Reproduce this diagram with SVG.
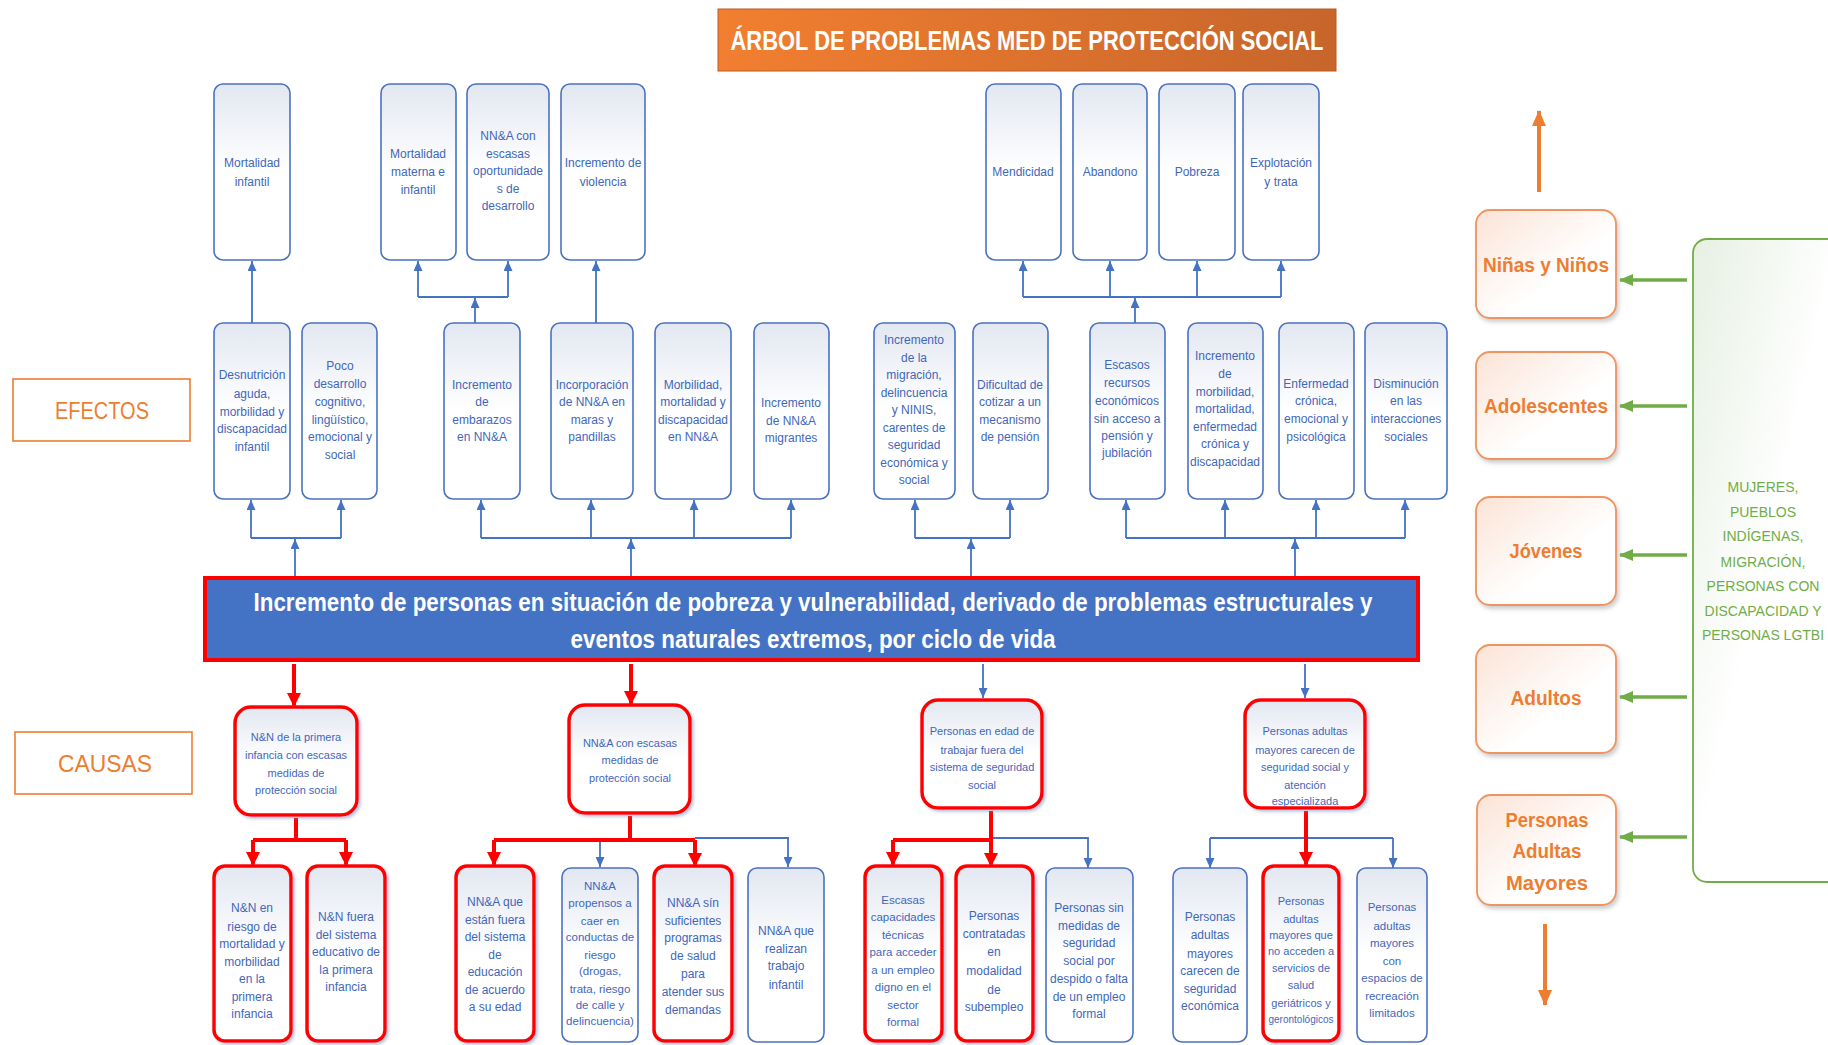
<svg xmlns="http://www.w3.org/2000/svg" width="1828" height="1045" viewBox="0 0 1828 1045">
<defs>
<linearGradient id="gb" x1="0" y1="0" x2="0" y2="1"><stop offset="0" stop-color="#E2E7F1"/><stop offset="0.5" stop-color="#FFFFFF"/></linearGradient>
<linearGradient id="go" x1="0" y1="0" x2="1" y2="1"><stop offset="0" stop-color="#FBE3D6"/><stop offset="0.6" stop-color="#FFFFFF"/></linearGradient>
<linearGradient id="gg" x1="0" y1="0" x2="1" y2="1"><stop offset="0" stop-color="#E6F0E2"/><stop offset="0.5" stop-color="#FFFFFF"/></linearGradient>
<linearGradient id="gt" x1="0" y1="0" x2="1" y2="0"><stop offset="0" stop-color="#F27F30"/><stop offset="1" stop-color="#C7652B"/></linearGradient>
<filter id="sh" x="-10%" y="-10%" width="130%" height="130%"><feDropShadow dx="2" dy="2" stdDeviation="1.5" flood-color="#6F86B8" flood-opacity="0.5"/></filter>
<filter id="sho" x="-10%" y="-10%" width="130%" height="130%"><feDropShadow dx="2" dy="3" stdDeviation="2" flood-color="#999" flood-opacity="0.5"/></filter>
<marker id="ab" viewBox="0 0 10 9" markerWidth="10" markerHeight="9" refX="10" refY="4.5" orient="auto" markerUnits="userSpaceOnUse"><path d="M0,0 L10,4.5 L0,9 z" fill="#4472C4"/></marker>
<marker id="ar" viewBox="0 0 14 14" markerWidth="14" markerHeight="14" refX="13" refY="7" orient="auto" markerUnits="userSpaceOnUse"><path d="M0,0 L14,7 L0,14 z" fill="#FF0000"/></marker>
<marker id="ag" viewBox="0 0 14 12" markerWidth="14" markerHeight="12" refX="13" refY="6" orient="auto" markerUnits="userSpaceOnUse"><path d="M0,0 L14,6 L0,12 z" fill="#70AD47"/></marker>
<marker id="ao" viewBox="0 0 16 14" markerWidth="16" markerHeight="14" refX="15" refY="7" orient="auto" markerUnits="userSpaceOnUse"><path d="M0,0 L16,7 L0,14 z" fill="#ED7D31"/></marker>
</defs>
<style>
.b{fill:url(#gb);stroke:#4A72C0;stroke-width:1.6}
.r{fill:url(#gb);stroke:#FF0000;stroke-width:3.5;filter:url(#sh)}
.t{font-family:"Liberation Sans",Arial,sans-serif;font-size:12px;fill:#3F67BA;text-anchor:middle}
.s11{font-size:11px}
.s115{font-size:11.5px}
.cb{fill:none;stroke:#4472C4;stroke-width:1.8}
.cr{fill:none;stroke:#FF0000;stroke-width:4}
.cg{fill:none;stroke:#70AD47;stroke-width:3.5}
.co{fill:none;stroke:#ED7D31;stroke-width:4}
.o{fill:url(#go);stroke:#EE9460;stroke-width:1.8;filter:url(#sho)}
.ot{font-family:"Liberation Sans",Arial,sans-serif;font-size:20px;font-weight:bold;fill:#ED7D31;text-anchor:middle}
.lab{fill:#FFFFFF;stroke:#ED7D31;stroke-width:1.6}
.lt{font-family:"Liberation Sans",Arial,sans-serif;font-size:24px;fill:#ED7D31;text-anchor:middle}
.gt{font-family:"Liberation Sans",Arial,sans-serif;font-size:14px;fill:#70AD47;text-anchor:middle}
</style>
<rect width="1828" height="1045" fill="#FFFFFF"/>

<g id="title">
<rect x="718" y="9" width="618" height="62" fill="url(#gt)" stroke="#B85A22" stroke-width="1"/>
<text x="1027" y="50" font-family="Liberation Sans,Arial,sans-serif" font-size="28" font-weight="bold" fill="#FFFFFF" text-anchor="middle" textLength="593" lengthAdjust="spacingAndGlyphs">ÁRBOL DE PROBLEMAS MED DE PROTECCIÓN SOCIAL</text>
</g>

<g id="efectos"><rect class="lab" x="13" y="379" width="177" height="62"/><text class="lt" x="102" y="419" textLength="94" lengthAdjust="spacingAndGlyphs">EFECTOS</text></g>
<g id="causas"><rect class="lab" x="15" y="732" width="177" height="62"/><text class="lt" x="105" y="772" textLength="94" lengthAdjust="spacingAndGlyphs">CAUSAS</text></g>

<g id="connectors">
<path class="cb" d="M252,323 V261" marker-end="url(#ab)"/>
<path class="cb" d="M475,323 V298" marker-end="url(#ab)"/>
<path class="cb" d="M418,297 H508"/>
<path class="cb" d="M418,297 V261" marker-end="url(#ab)"/>
<path class="cb" d="M508,297 V261" marker-end="url(#ab)"/>
<path class="cb" d="M596,323 V261" marker-end="url(#ab)"/>
<path class="cb" d="M1135,323 V298" marker-end="url(#ab)"/>
<path class="cb" d="M1023,297 H1281"/>
<path class="cb" d="M1023,297 V261" marker-end="url(#ab)"/>
<path class="cb" d="M1110,297 V261" marker-end="url(#ab)"/>
<path class="cb" d="M1197,297 V261" marker-end="url(#ab)"/>
<path class="cb" d="M1281,297 V261" marker-end="url(#ab)"/>
<path class="cb" d="M295,576 V539" marker-end="url(#ab)"/>
<path class="cb" d="M251,538 H341"/>
<path class="cb" d="M251,538 V500" marker-end="url(#ab)"/>
<path class="cb" d="M341,538 V500" marker-end="url(#ab)"/>
<path class="cb" d="M631,576 V539" marker-end="url(#ab)"/>
<path class="cb" d="M481,538 H791"/>
<path class="cb" d="M481,538 V500" marker-end="url(#ab)"/>
<path class="cb" d="M591,538 V500" marker-end="url(#ab)"/>
<path class="cb" d="M694,538 V500" marker-end="url(#ab)"/>
<path class="cb" d="M791,538 V500" marker-end="url(#ab)"/>
<path class="cb" d="M971,576 V539" marker-end="url(#ab)"/>
<path class="cb" d="M915,538 H1010"/>
<path class="cb" d="M915,538 V500" marker-end="url(#ab)"/>
<path class="cb" d="M1010,538 V500" marker-end="url(#ab)"/>
<path class="cb" d="M1295,576 V539" marker-end="url(#ab)"/>
<path class="cb" d="M1126,538 H1405"/>
<path class="cb" d="M1126,538 V500" marker-end="url(#ab)"/>
<path class="cb" d="M1225,538 V500" marker-end="url(#ab)"/>
<path class="cb" d="M1316,538 V500" marker-end="url(#ab)"/>
<path class="cb" d="M1405,538 V500" marker-end="url(#ab)"/>
<path class="cr" d="M294,664 V706" marker-end="url(#ar)"/>
<path class="cr" d="M631,664 V704" marker-end="url(#ar)"/>
<path class="cb" d="M983,664 V698" marker-end="url(#ab)"/>
<path class="cb" d="M1305,664 V698" marker-end="url(#ab)"/>
<path class="cr" d="M296,818 V840 M253,840 H346"/>
<path class="cr" d="M253,840 V865" marker-end="url(#ar)"/>
<path class="cr" d="M346,840 V865" marker-end="url(#ar)"/>
<path class="cb" d="M695,838 H788 V867" marker-end="url(#ab)"/>
<path class="cb" d="M600,840 V867" marker-end="url(#ab)"/>
<path class="cr" d="M630,816 V840 M494,840 H695"/>
<path class="cr" d="M494,840 V865" marker-end="url(#ar)"/>
<path class="cr" d="M695,840 V866" marker-end="url(#ar)"/>
<path class="cb" d="M991,838 H1088 V868" marker-end="url(#ab)"/>
<path class="cr" d="M991,811 V840 M893,840 H991"/>
<path class="cr" d="M893,840 V865" marker-end="url(#ar)"/>
<path class="cr" d="M991,840 V866" marker-end="url(#ar)"/>
<path class="cb" d="M1210,838 H1393"/>
<path class="cb" d="M1210,838 V868" marker-end="url(#ab)"/>
<path class="cb" d="M1393,838 V868" marker-end="url(#ab)"/>
<path class="cr" d="M1306,811 V865" marker-end="url(#ar)"/>
<path class="co" d="M1539,192 V111" marker-end="url(#ao)"/>
<path class="co" d="M1545,924 V1005" marker-end="url(#ao)"/>
<path class="cg" d="M1687,280 H1620" marker-end="url(#ag)"/>
<path class="cg" d="M1687,406 H1620" marker-end="url(#ag)"/>
<path class="cg" d="M1687,555 H1620" marker-end="url(#ag)"/>
<path class="cg" d="M1687,697 H1620" marker-end="url(#ag)"/>
<path class="cg" d="M1687,837 H1620" marker-end="url(#ag)"/>
</g>

<g id="e-mortalidad-infantil"><rect class="b" x="214" y="84" width="76" height="176" rx="9"/><text class="t"><tspan x="252" y="167">Mortalidad</tspan><tspan x="252" y="186">infantil</tspan></text></g>
<g id="e-mortalidad-materna"><rect class="b" x="381" y="84" width="75" height="176" rx="9"/><text class="t"><tspan x="418" y="158">Mortalidad</tspan><tspan x="418" y="176">materna e</tspan><tspan x="418" y="194">infantil</tspan></text></g>
<g id="e-oportunidades"><rect class="b" x="467" y="84" width="82" height="176" rx="9"/><text class="t"><tspan x="508" y="140">NN&amp;A con</tspan><tspan x="508" y="158">escasas</tspan><tspan x="508" y="175">oportunidade</tspan><tspan x="508" y="193">s de</tspan><tspan x="508" y="210">desarrollo</tspan></text></g>
<g id="e-violencia"><rect class="b" x="561" y="84" width="84" height="176" rx="9"/><text class="t"><tspan x="603" y="167">Incremento de</tspan><tspan x="603" y="186">violencia</tspan></text></g>
<g id="e-mendicidad"><rect class="b" x="986" y="84" width="75" height="176" rx="9"/><text class="t"><tspan x="1023" y="176">Mendicidad</tspan></text></g>
<g id="e-abandono"><rect class="b" x="1073" y="84" width="74" height="176" rx="9"/><text class="t"><tspan x="1110" y="176">Abandono</tspan></text></g>
<g id="e-pobreza"><rect class="b" x="1159" y="84" width="76" height="176" rx="9"/><text class="t"><tspan x="1197" y="176">Pobreza</tspan></text></g>
<g id="e-explotacion"><rect class="b" x="1243" y="84" width="76" height="176" rx="9"/><text class="t"><tspan x="1281" y="167">Explotación</tspan><tspan x="1281" y="186">y trata</tspan></text></g>

<g id="e-desnutricion"><rect class="b" x="214" y="323" width="76" height="176" rx="9"/><text class="t"><tspan x="252" y="379">Desnutrición</tspan><tspan x="252" y="398">aguda,</tspan><tspan x="252" y="416">morbilidad y</tspan><tspan x="252" y="433">discapacidad</tspan><tspan x="252" y="451">infantil</tspan></text></g>
<g id="e-poco-desarrollo"><rect class="b" x="302" y="323" width="75" height="176" rx="9"/><text class="t"><tspan x="340" y="370">Poco</tspan><tspan x="340" y="388">desarrollo</tspan><tspan x="340" y="406">cognitivo,</tspan><tspan x="340" y="424">lingüístico,</tspan><tspan x="340" y="441">emocional y</tspan><tspan x="340" y="459">social</tspan></text></g>
<g id="e-embarazos"><rect class="b" x="444" y="323" width="76" height="176" rx="9"/><text class="t"><tspan x="482" y="389">Incremento</tspan><tspan x="482" y="406">de</tspan><tspan x="482" y="424">embarazos</tspan><tspan x="482" y="441">en NN&amp;A</tspan></text></g>
<g id="e-maras"><rect class="b" x="551" y="323" width="82" height="176" rx="9"/><text class="t"><tspan x="592" y="389">Incorporación</tspan><tspan x="592" y="406">de NN&amp;A en</tspan><tspan x="592" y="424">maras y</tspan><tspan x="592" y="441">pandillas</tspan></text></g>
<g id="e-morbilidad-nna"><rect class="b" x="655" y="323" width="76" height="176" rx="9"/><text class="t"><tspan x="693" y="389">Morbilidad,</tspan><tspan x="693" y="406">mortalidad y</tspan><tspan x="693" y="424">discapacidad</tspan><tspan x="693" y="441">en NN&amp;A</tspan></text></g>
<g id="e-migrantes"><rect class="b" x="754" y="323" width="75" height="176" rx="9"/><text class="t"><tspan x="791" y="407">Incremento</tspan><tspan x="791" y="425">de NN&amp;A</tspan><tspan x="791" y="442">migrantes</tspan></text></g>
<g id="e-migracion"><rect class="b" x="874" y="323" width="81" height="176" rx="9"/><text class="t"><tspan x="914" y="344">Incremento</tspan><tspan x="914" y="362">de la</tspan><tspan x="914" y="379">migración,</tspan><tspan x="914" y="397">delincuencia</tspan><tspan x="914" y="414">y NINIS,</tspan><tspan x="914" y="432">carentes de</tspan><tspan x="914" y="449">seguridad</tspan><tspan x="914" y="467">económica y</tspan><tspan x="914" y="484">social</tspan></text></g>
<g id="e-cotizar"><rect class="b" x="973" y="323" width="75" height="176" rx="9"/><text class="t"><tspan x="1010" y="389">Dificultad de</tspan><tspan x="1010" y="406">cotizar a un</tspan><tspan x="1010" y="424">mecanismo</tspan><tspan x="1010" y="441">de pensión</tspan></text></g>
<g id="e-recursos"><rect class="b" x="1090" y="323" width="75" height="176" rx="9"/><text class="t"><tspan x="1127" y="369">Escasos</tspan><tspan x="1127" y="387">recursos</tspan><tspan x="1127" y="405">económicos</tspan><tspan x="1127" y="423">sin acceso a</tspan><tspan x="1127" y="440">pensión y</tspan><tspan x="1127" y="457">jubilación</tspan></text></g>
<g id="e-morbilidad-am"><rect class="b" x="1188" y="323" width="75" height="176" rx="9"/><text class="t"><tspan x="1225" y="360">Incremento</tspan><tspan x="1225" y="378">de</tspan><tspan x="1225" y="396">morbilidad,</tspan><tspan x="1225" y="413">mortalidad,</tspan><tspan x="1225" y="431">enfermedad</tspan><tspan x="1225" y="448">crónica y</tspan><tspan x="1225" y="466">discapacidad</tspan></text></g>
<g id="e-enfermedad"><rect class="b" x="1279" y="323" width="75" height="176" rx="9"/><text class="t"><tspan x="1316" y="388">Enfermedad</tspan><tspan x="1316" y="405">crónica,</tspan><tspan x="1316" y="423">emocional y</tspan><tspan x="1316" y="441">psicológica</tspan></text></g>
<g id="e-interacciones"><rect class="b" x="1365" y="323" width="82" height="176" rx="9"/><text class="t"><tspan x="1406" y="388">Disminución</tspan><tspan x="1406" y="405">en las</tspan><tspan x="1406" y="423">interacciones</tspan><tspan x="1406" y="441">sociales</tspan></text></g>

<g id="problema-central">
<rect x="205" y="578" width="1213" height="82" fill="#4472C4" stroke="#FF0000" stroke-width="4"/>
<text font-family="Liberation Sans,Arial,sans-serif" font-size="25" font-weight="bold" fill="#FFFFFF" text-anchor="middle"><tspan x="813" y="611" textLength="1119" lengthAdjust="spacingAndGlyphs">Incremento de personas en situación de pobreza y vulnerabilidad, derivado de problemas estructurales y</tspan><tspan x="813" y="648" textLength="485" lengthAdjust="spacingAndGlyphs">eventos naturales extremos, por ciclo de vida</tspan></text>
</g>

<g id="c-primera-infancia"><rect class="r" x="235" y="707" width="122" height="108" rx="16"/><text class="t s11"><tspan x="296" y="741">N&amp;N de la primera</tspan><tspan x="296" y="759">infancia con escasas</tspan><tspan x="296" y="777">medidas de</tspan><tspan x="296" y="794">protección social</tspan></text></g>
<g id="c-nna"><rect class="r" x="569" y="705" width="121" height="108" rx="16"/><text class="t s11"><tspan x="630" y="747">NN&amp;A con escasas</tspan><tspan x="630" y="764">medidas de</tspan><tspan x="630" y="782">protección social</tspan></text></g>
<g id="c-edad-trabajar"><rect class="r" x="922" y="700" width="120" height="108" rx="16"/><text class="t s11"><tspan x="982" y="735">Personas en edad de</tspan><tspan x="982" y="754">trabajar fuera del</tspan><tspan x="982" y="771">sistema de seguridad</tspan><tspan x="982" y="789">social</tspan></text></g>
<g id="c-adultos-mayores"><rect class="r" x="1245" y="700" width="120" height="108" rx="16"/><text class="t s11"><tspan x="1305" y="735">Personas adultas</tspan><tspan x="1305" y="754">mayores carecen de</tspan><tspan x="1305" y="771">seguridad social y</tspan><tspan x="1305" y="789">atención</tspan><tspan x="1305" y="805">especializada</tspan></text></g>

<g id="c-riesgo-mortalidad"><rect class="r" x="214" y="866" width="77" height="175" rx="11"/><text class="t"><tspan x="252" y="912">N&amp;N en</tspan><tspan x="252" y="931">riesgo de</tspan><tspan x="252" y="948">mortalidad y</tspan><tspan x="252" y="966">morbilidad</tspan><tspan x="252" y="983">en la</tspan><tspan x="252" y="1001">primera</tspan><tspan x="252" y="1018">infancia</tspan></text></g>
<g id="c-fuera-educativo"><rect class="r" x="307" y="866" width="78" height="175" rx="11"/><text class="t"><tspan x="346" y="921">N&amp;N fuera</tspan><tspan x="346" y="939">del sistema</tspan><tspan x="346" y="956">educativo de</tspan><tspan x="346" y="974">la primera</tspan><tspan x="346" y="991">infancia</tspan></text></g>
<g id="c-fuera-educacion"><rect class="r" x="456" y="866" width="78" height="175" rx="11"/><text class="t"><tspan x="495" y="906">NN&amp;A que</tspan><tspan x="495" y="924">están fuera</tspan><tspan x="495" y="941">del sistema</tspan><tspan x="495" y="959">de</tspan><tspan x="495" y="976">educación</tspan><tspan x="495" y="994">de acuerdo</tspan><tspan x="495" y="1011">a su edad</tspan></text></g>
<g id="c-conductas-riesgo"><rect class="b" x="562" y="868" width="76" height="174" rx="9"/><text class="t s115"><tspan x="600" y="890">NN&amp;A</tspan><tspan x="600" y="907">propensos a</tspan><tspan x="600" y="925">caer en</tspan><tspan x="600" y="941">conductas de</tspan><tspan x="600" y="959">riesgo</tspan><tspan x="600" y="975">(drogas,</tspan><tspan x="600" y="993">trata, riesgo</tspan><tspan x="600" y="1009">de calle y</tspan><tspan x="600" y="1025">delincuencia)</tspan></text></g>
<g id="c-programas-salud"><rect class="r" x="654" y="866" width="78" height="175" rx="11"/><text class="t"><tspan x="693" y="907">NN&amp;A sín</tspan><tspan x="693" y="925">suficientes</tspan><tspan x="693" y="942">programas</tspan><tspan x="693" y="960">de salud</tspan><tspan x="693" y="978">para</tspan><tspan x="693" y="996">atender sus</tspan><tspan x="693" y="1014">demandas</tspan></text></g>
<g id="c-trabajo-infantil"><rect class="b" x="748" y="868" width="76" height="174" rx="9"/><text class="t"><tspan x="786" y="935">NN&amp;A que</tspan><tspan x="786" y="953">realizan</tspan><tspan x="786" y="970">trabajo</tspan><tspan x="786" y="989">infantil</tspan></text></g>
<g id="c-capacidades"><rect class="r" x="865" y="866" width="77" height="175" rx="11"/><text class="t s115"><tspan x="903" y="904">Escasas</tspan><tspan x="903" y="921">capacidades</tspan><tspan x="903" y="939">técnicas</tspan><tspan x="903" y="956">para acceder</tspan><tspan x="903" y="974">a un empleo</tspan><tspan x="903" y="991">digno en el</tspan><tspan x="903" y="1009">sector</tspan><tspan x="903" y="1026">formal</tspan></text></g>
<g id="c-subempleo"><rect class="r" x="956" y="866" width="77" height="175" rx="11"/><text class="t"><tspan x="994" y="920">Personas</tspan><tspan x="994" y="938">contratadas</tspan><tspan x="994" y="956">en</tspan><tspan x="994" y="975">modalidad</tspan><tspan x="994" y="994">de</tspan><tspan x="994" y="1011">subempleo</tspan></text></g>
<g id="c-sin-medidas"><rect class="b" x="1046" y="868" width="87" height="174" rx="9"/><text class="t"><tspan x="1089" y="912">Personas sin</tspan><tspan x="1089" y="930">medidas de</tspan><tspan x="1089" y="947">seguridad</tspan><tspan x="1089" y="965">social por</tspan><tspan x="1089" y="983">despido o falta</tspan><tspan x="1089" y="1001">de un empleo</tspan><tspan x="1089" y="1018">formal</tspan></text></g>
<g id="c-seguridad-economica"><rect class="b" x="1173" y="868" width="74" height="174" rx="9"/><text class="t"><tspan x="1210" y="921">Personas</tspan><tspan x="1210" y="939">adultas</tspan><tspan x="1210" y="958">mayores</tspan><tspan x="1210" y="975">carecen de</tspan><tspan x="1210" y="993">seguridad</tspan><tspan x="1210" y="1010">económica</tspan></text></g>
<g id="c-servicios-salud"><rect class="r" x="1263" y="866" width="76" height="175" rx="11"/><text class="t s11"><tspan x="1301" y="905">Personas</tspan><tspan x="1301" y="923">adultas</tspan><tspan x="1301" y="939">mayores que</tspan><tspan x="1301" y="955">no acceden a</tspan><tspan x="1301" y="972">servicios de</tspan><tspan x="1301" y="989">salud</tspan><tspan x="1301" y="1007">geriátricos y</tspan><tspan x="1301" y="1023" font-size="10">gerontológicos</tspan></text></g>
<g id="c-recreacion"><rect class="b" x="1357" y="868" width="70" height="174" rx="9"/><text class="t s115"><tspan x="1392" y="911">Personas</tspan><tspan x="1392" y="930">adultas</tspan><tspan x="1392" y="947">mayores</tspan><tspan x="1392" y="965">con</tspan><tspan x="1392" y="982">espacios de</tspan><tspan x="1392" y="1000">recreación</tspan><tspan x="1392" y="1017">limitados</tspan></text></g>

<g id="ninas-ninos"><rect class="o" x="1476" y="210" width="140" height="108" rx="14"/><text class="ot" x="1546" y="272" textLength="126" lengthAdjust="spacingAndGlyphs">Niñas y Niños</text></g>
<g id="adolescentes"><rect class="o" x="1476" y="352" width="140" height="107" rx="14"/><text class="ot" x="1546" y="413" textLength="124" lengthAdjust="spacingAndGlyphs">Adolescentes</text></g>
<g id="jovenes"><rect class="o" x="1476" y="497" width="140" height="108" rx="14"/><text class="ot" x="1546" y="558" textLength="73" lengthAdjust="spacingAndGlyphs">Jóvenes</text></g>
<g id="adultos"><rect class="o" x="1476" y="645" width="140" height="108" rx="14"/><text class="ot" x="1546" y="705" textLength="71" lengthAdjust="spacingAndGlyphs">Adultos</text></g>
<g id="adultos-mayores"><rect class="o" x="1477" y="795" width="139" height="110" rx="14"/><text class="ot"><tspan x="1547" y="827" textLength="83" lengthAdjust="spacingAndGlyphs">Personas</tspan><tspan x="1547" y="858" textLength="69" lengthAdjust="spacingAndGlyphs">Adultas</tspan><tspan x="1547" y="890" textLength="82" lengthAdjust="spacingAndGlyphs">Mayores</tspan></text></g>

<g id="grupos-prioritarios"><rect x="1693" y="239" width="150" height="643" rx="14" fill="url(#gg)" stroke="#70AD47" stroke-width="1.8"/><text class="gt"><tspan x="1763" y="492">MUJERES,</tspan><tspan x="1763" y="517">PUEBLOS</tspan><tspan x="1763" y="541">INDÍGENAS,</tspan><tspan x="1763" y="567">MIGRACIÓN,</tspan><tspan x="1763" y="591">PERSONAS CON</tspan><tspan x="1763" y="616">DISCAPACIDAD Y</tspan><tspan x="1763" y="640">PERSONAS LGTBI</tspan></text></g>
</svg>
